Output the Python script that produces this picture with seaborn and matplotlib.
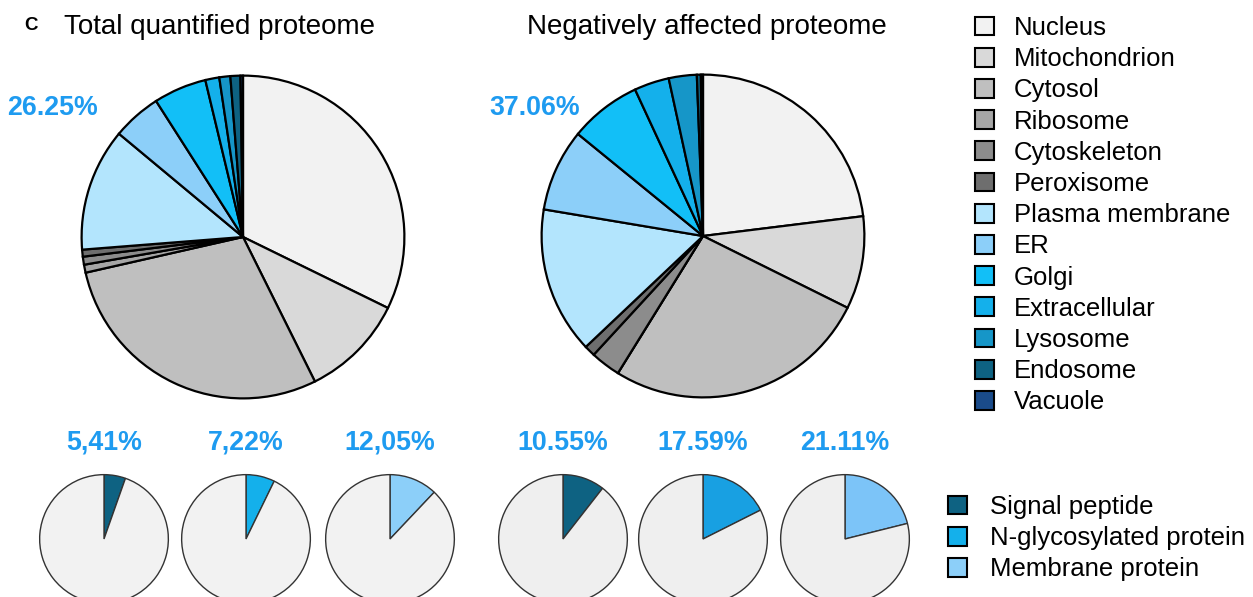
import matplotlib
matplotlib.use("Agg")
import matplotlib.pyplot as plt
from matplotlib.patches import Patch
import seaborn as sns

sns.set_theme(style="white")
plt.rcParams["font.family"] = ["Liberation Sans", "DejaVu Sans"]
plt.rcParams["text.color"] = "black"

# Subcellular localisation categories and their colours
compartments = ["Nucleus", "Mitochondrion", "Cytosol", "Ribosome", "Cytoskeleton",
                "Peroxisome", "Plasma membrane", "ER", "Golgi", "Extracellular",
                "Lysosome", "Endosome", "Vacuole"]
compartment_colors = ["#f2f2f2", "#d9d9d9", "#bfbfbf", "#a6a6a6", "#8c8c8c",
                      "#6e6e6e", "#b3e5fd", "#8ccff9", "#12bff7", "#14b0eb",
                      "#1696c8", "#0e6282", "#1a4b8a"]

# Share of proteins (%) per compartment
total_proteome = [32.25, 10.4, 28.8, 0.8, 0.8, 0.7, 12.3, 4.9, 5.3, 1.4, 1.1, 1.0, 0.25]
affected_proteome = [23.04, 9.3, 26.5, 0.0, 3.0, 1.1, 14.7, 8.25, 7.2, 3.5, 2.8, 0.4, 0.21]

big_titles = ["Total quantified proteome", "Negatively affected proteome"]
membrane_share = ["26.25%", "37.06%"]

# Protein features: share (%) in each proteome
features = ["Signal peptide", "N-glycosylated protein", "Membrane protein"]
feature_colors_total = ["#0e6282", "#14b0eb", "#8ccff9"]
feature_colors_affected = ["#0e6282", "#18a0e2", "#7cc4f8"]
feature_total = [5.41, 7.22, 12.05]
feature_affected = [10.55, 17.59, 21.11]
feature_labels_total = ["5,41%", "7,22%", "12,05%"]
feature_labels_affected = ["10.55%", "17.59%", "21.11%"]

W, H = 1253, 597
fig = plt.figure(figsize=(W / 100, H / 100), dpi=100)
label_blue = "#1e9bf0"


def pie_axes(cx, cy, r):
    return fig.add_axes([(cx - r) / W, 1 - (cy + r) / H, 2 * r / W, 2 * r / H])


def finish(ax):
    # pie() resets the limits, so fix them afterwards to fill the axes box
    ax.set_xlim(-1.01, 1.01)
    ax.set_ylim(-1.01, 1.01)
    ax.set_aspect("equal")
    ax.axis("off")


# Large compartment pies
big_centers = [(243, 237), (703, 236)]
for (cx, cy), vals in zip(big_centers, [total_proteome, affected_proteome]):
    ax = pie_axes(cx, cy, 163)
    ax.pie(vals, colors=compartment_colors, startangle=90, counterclock=False,
           radius=1.0, wedgeprops=dict(edgecolor="black", linewidth=1.6))
    finish(ax)

for x, t in zip([220, 707], big_titles):
    fig.text(x / W, 1 - 27 / H, t, ha="center", va="center", fontsize=20, color="black")
fig.text(31 / W, 1 - 26 / H, "C", ha="center", va="center", fontsize=13.5,
         fontweight="bold", color="black")
for x, t in zip([53, 535], membrane_share):
    fig.text(x / W, 1 - 108 / H, t, ha="center", va="center", fontsize=19.3,
             fontweight="bold", color=label_blue)

# Small feature pies
small_total_x = [104, 246, 390]
small_affected_x = [563, 703, 845]
small_y = 539
for xs, vals, cols, labels, rest in [
        (small_total_x, feature_total, feature_colors_total, feature_labels_total, "#f2f2f2"),
        (small_affected_x, feature_affected, feature_colors_affected, feature_labels_affected, "#efefef")]:
    for cx, v, c, lab in zip(xs, vals, cols, labels):
        ax = pie_axes(cx, small_y, 65)
        ax.pie([v, 100 - v], colors=[c, rest], startangle=90, counterclock=False,
               radius=1.0, wedgeprops=dict(edgecolor="#333333", linewidth=1.0))
        finish(ax)
        fig.text(cx / W, 1 - 443 / H, lab, ha="center", va="center", fontsize=19.3,
                 fontweight="bold", color=label_blue)

# Legends
comp_handles = [Patch(facecolor=c, edgecolor="black", linewidth=1.5) for c in compartment_colors]
fig.legend(comp_handles, compartments, loc="upper left",
           bbox_to_anchor=(975 / W, 1 - 16 / H), frameon=False, fontsize=18.5,
           handlelength=0.75, handleheight=0.75, handletextpad=0.75, labelspacing=0.28,
           borderpad=0, borderaxespad=0, labelcolor="black")

feat_handles = [Patch(facecolor=c, edgecolor="black", linewidth=1.5) for c in feature_colors_total]
fig.legend(feat_handles, features, loc="upper left",
           bbox_to_anchor=(948 / W, 1 - 495 / H), frameon=False, fontsize=18.5,
           handlelength=0.75, handleheight=0.75, handletextpad=0.9, labelspacing=0.28,
           borderpad=0, borderaxespad=0, labelcolor="black")

fig.savefig("out.png", dpi=100, facecolor="white")
